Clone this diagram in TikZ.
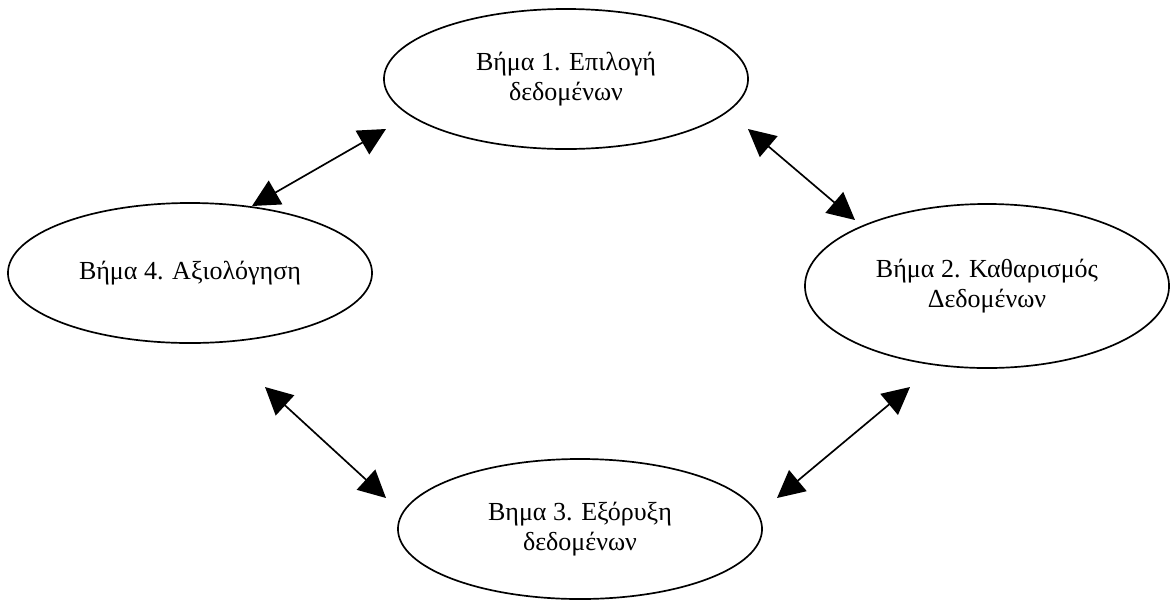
\documentclass[tikz,border=0pt]{standalone}
\usepackage{fontspec}
\setmainfont{Liberation Serif}
\usepackage{tikz}
\usetikzlibrary{shapes.geometric, arrows.meta, positioning}
\tikzset{
	stagenode/.style={
			ellipse,
			draw=black,
			line width=1.2pt,
			fill=white,
			minimum width=9.1cm,
			minimum height=3.5cm,
			inner sep=0pt,
			align=center,
			font=\fontsize{18.5}{21}\selectfont
		},
	tallnode/.style={
			stagenode,
			minimum height=4.1cm
		},
	arrowline/.style={
			line width=1.2pt,
			{Triangle[length=0.68cm, width=0.68cm]}-{Triangle[length=0.68cm, width=0.68cm]}
		}
}
\begin{document}
\begin{tikzpicture}[x=0.025cm, y=-0.025cm]
\useasboundingbox (0,0) rectangle (1171,601);

\node[stagenode] (s1) at (566,79)  {Βήμα 1. Επιλογή\\δεδομένων};
\node[tallnode]  (s2) at (987,286) {Βήμα 2. Καθαρισμός\\Δεδομένων};
\node[stagenode] (s3) at (580,529) {Βημα 3. Εξόρυξη\\δεδομένων};
\node[stagenode] (s4) at (190,273) {Βήμα 4. Αξιολόγηση};

\coordinate (a1) at (252,206);
\coordinate (b1) at (386,129);
\coordinate (a2) at (748,129);
\coordinate (b2) at (855,220);
\coordinate (a3) at (265,387);
\coordinate (b3) at (386,498);
\coordinate (a4) at (910,387);
\coordinate (b4) at (777,498);

\draw[arrowline] (a1) -- (b1);
\draw[arrowline] (a2) -- (b2);
\draw[arrowline] (a3) -- (b3);
\draw[arrowline] (a4) -- (b4);

\end{tikzpicture}
\end{document}
